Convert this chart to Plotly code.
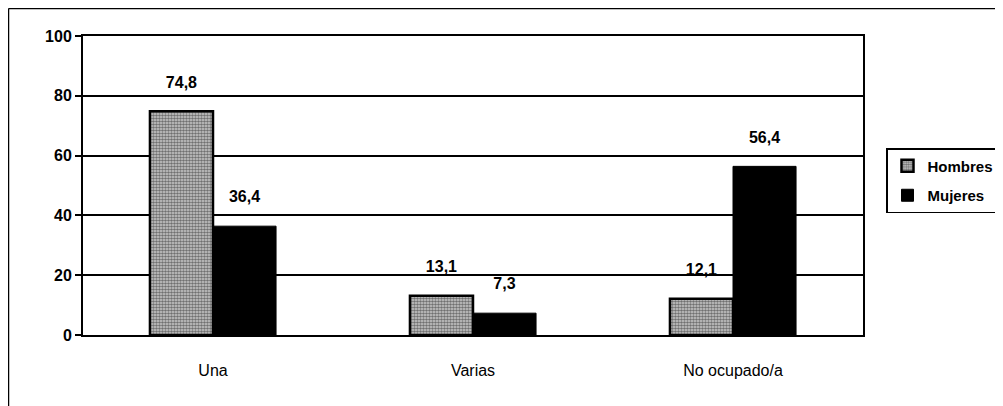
import plotly.graph_objects as go

# --- Data ---
CATEGORIES = ["Una", "Varias", "No ocupado/a"]
HOMBRES = [74.8, 13.1, 12.1]
MUJERES = [36.4, 7.3, 56.4]
Y_TICKS = [0, 20, 40, 60, 80, 100]

FONT = "Liberation Sans, Arial, sans-serif"
LABEL = "%{y:.1f}<br><span style='font-size:2px'> </span>"

# page body has an 8px margin, so work in screen coords minus 8
OFF = 8
W, H = 1003 - OFF, 406 - OFF

fig = go.Figure()

fig.add_trace(go.Bar(
    x=CATEGORIES, y=HOMBRES, name="Hombres", legendgroup="h",
    marker=dict(
        color="#ffffff",
        line=dict(color="black", width=2.5),
        pattern=dict(shape=".", fgcolor="#111111", bgcolor="#cfcfcf", size=3, solidity=0.6),
    ),
    texttemplate=LABEL, textposition="outside", cliponaxis=False,
    textfont=dict(family=FONT, size=16, color="black", weight="bold"),
))
fig.add_trace(go.Bar(
    x=CATEGORIES, y=MUJERES, name="Mujeres", legendgroup="m",
    marker=dict(color="black", line=dict(color="black", width=1)),
    texttemplate=LABEL, textposition="outside", cliponaxis=False,
    textfont=dict(family=FONT, size=16, color="black", weight="bold"),
))

# plot area on screen: x 83..863, y 36..335
ml, mt, mr = 83 - OFF, 36 - OFF, 2
mb = 406 - 335
pw_full = W - ml - mr
pw, ph = 863 - 83, 335 - 36
top_edge = (335 - OFF - 0.5) / ph
left_edge = (OFF + 0.5 - 83) / pw_full

fig.update_layout(
    width=W, height=H,
    margin=dict(l=ml, r=mr, t=mt, b=mb, autoexpand=False),
    separators=",.",
    barmode="group", bargap=0.515, bargroupgap=0,
    plot_bgcolor="white", paper_bgcolor="white",
    font=dict(family=FONT, color="black"),
    showlegend=True,
    legend=dict(
        x=(886 - 83) / pw_full, y=(335 - 148) / ph, xanchor="left", yanchor="top",
        bordercolor="black", borderwidth=1.5, bgcolor="white",
        font=dict(family=FONT, size=15, color="black", weight="bold"),
        itemwidth=30, traceorder="grouped", tracegroupgap=7,
    ),
    xaxis=dict(
        domain=[0, pw / pw_full],
        showline=True, linecolor="black", linewidth=2, mirror=True,
        ticks="", tickfont=dict(family=FONT, size=16, color="black"),
        ticklabelstandoff=20,
        showgrid=False,
    ),
    yaxis=dict(
        range=[0, 100], tickvals=Y_TICKS,
        showline=True, linecolor="black", linewidth=2, mirror=True,
        ticks="outside", ticklen=6, tickcolor="black", tickwidth=2,
        showgrid=True, gridcolor="black", gridwidth=1.5,
        tickfont=dict(family=FONT, size=16, color="black", weight="bold"),
        zeroline=False,
    ),
    shapes=[
        # outer frame: only top and left edges are visible in the scan
        dict(type="line", xref="paper", yref="paper",
             x0=left_edge, x1=1, y0=top_edge, y1=top_edge,
             line=dict(color="black", width=1.5)),
        dict(type="line", xref="paper", yref="paper",
             x0=left_edge, x1=left_edge, y0=top_edge, y1=(335 - 406) / ph,
             line=dict(color="black", width=1.5)),
    ],
)

fig.write_html("out.html")
